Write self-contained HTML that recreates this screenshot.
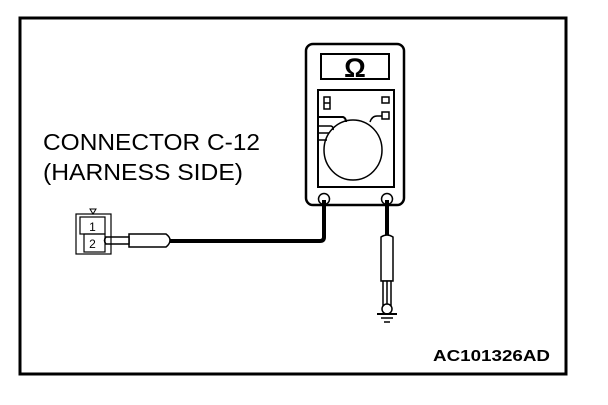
<!DOCTYPE html>
<html><head><style>html,body{margin:0;padding:0;background:#fff}</style></head>
<body>
<svg width="608" height="400" viewBox="0 0 608 400" xmlns="http://www.w3.org/2000/svg" font-family="Liberation Sans, sans-serif">
<rect x="20" y="18" width="546" height="356" fill="none" stroke="#000" stroke-width="3"/>
<text x="43" y="150" font-size="23" textLength="217" lengthAdjust="spacingAndGlyphs">CONNECTOR C-12</text>
<text x="43" y="180" font-size="23" textLength="200" lengthAdjust="spacingAndGlyphs">(HARNESS SIDE)</text>
<text x="433" y="361" font-size="16" font-weight="bold" textLength="117" lengthAdjust="spacingAndGlyphs">AC101326AD</text>
<!-- meter -->
<rect x="306" y="44" width="98" height="161" rx="7" fill="none" stroke="#000" stroke-width="2.5"/>
<rect x="321" y="54" width="68" height="25" fill="none" stroke="#000" stroke-width="2"/>
<text x="355" y="77" font-size="27" font-weight="bold" text-anchor="middle">Ω</text>
<rect x="318" y="90" width="76" height="97" fill="none" stroke="#000" stroke-width="2"/>
<rect x="324" y="97" width="6" height="12" fill="none" stroke="#000" stroke-width="1.5"/>
<line x1="324" y1="103" x2="330" y2="103" stroke="#000" stroke-width="1.5"/>
<rect x="382" y="97" width="7" height="6" fill="none" stroke="#000" stroke-width="1.5"/>
<rect x="382" y="112" width="7" height="7" fill="none" stroke="#000" stroke-width="1.5"/>
<ellipse cx="353" cy="150" rx="29" ry="30" fill="none" stroke="#000" stroke-width="1.5"/>
<path d="M319 117 H343 Q346 118 346 122" fill="none" stroke="#000" stroke-width="2"/>
<path d="M370 122 Q372 116 377 116 H382" fill="none" stroke="#000" stroke-width="1.5"/>
<path d="M319 126 H331 Q334 127 333 130" fill="none" stroke="#000" stroke-width="1.5"/>
<path d="M319 133 H329" fill="none" stroke="#000" stroke-width="1.5"/>
<path d="M319 140 H327" fill="none" stroke="#000" stroke-width="1.5"/>
<circle cx="324" cy="199" r="5.5" fill="none" stroke="#000" stroke-width="1.5"/>
<circle cx="387" cy="199" r="5.5" fill="none" stroke="#000" stroke-width="1.5"/>
<!-- left lead -->
<path d="M324 200 V237 Q324 241 320 241 H168" fill="none" stroke="#000" stroke-width="4"/>
<path d="M129 234 H166 Q170 237 170 240 Q170 244 166 247 H129 Z" fill="#fff" stroke="#000" stroke-width="1.5"/>
<path d="M106 237 H129 V244 H106 Q103 240.5 106 237 Z" fill="#fff" stroke="#000" stroke-width="1.5"/>
<!-- connector -->
<rect x="76" y="214" width="35" height="40" fill="none" stroke="#000" stroke-width="1.2"/>
<rect x="80" y="217" width="25" height="17" fill="none" stroke="#000" stroke-width="1.2"/>
<rect x="84" y="234" width="21" height="18" fill="none" stroke="#000" stroke-width="1.2"/>
<text x="92.5" y="231" font-size="12" text-anchor="middle">1</text>
<text x="92.5" y="248" font-size="12" text-anchor="middle">2</text>
<path d="M90 209 H96 L93 214 Z" fill="none" stroke="#000" stroke-width="1"/>
<!-- right lead -->
<line x1="387" y1="200" x2="387" y2="237" stroke="#000" stroke-width="4"/>
<path d="M381 237 Q387 233 393 237 V281 H381 Z" fill="#fff" stroke="#000" stroke-width="1.5"/>
<rect x="383" y="281" width="8" height="24" fill="#fff" stroke="#000" stroke-width="1.5"/>
<line x1="387" y1="281" x2="387" y2="305" stroke="#000" stroke-width="1.5"/>
<circle cx="387" cy="309" r="5" fill="#fff" stroke="#000" stroke-width="1.5"/>
<line x1="377" y1="314" x2="397" y2="314" stroke="#000" stroke-width="2"/>
<line x1="381" y1="318" x2="393" y2="318" stroke="#000" stroke-width="1.5"/>
<line x1="384" y1="322" x2="390" y2="322" stroke="#000" stroke-width="1.5"/>
</svg>
</body></html>
